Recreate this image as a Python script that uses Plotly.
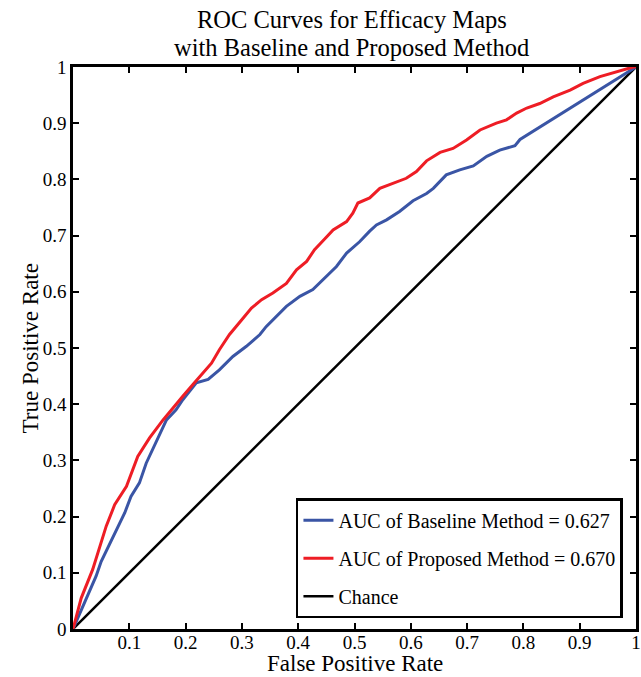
import plotly.graph_objects as go

# Baseline method ROC (blue)
baseline_fpr = [0.0, 0.023, 0.041, 0.05, 0.071, 0.092, 0.103, 0.118, 0.13, 0.145, 0.157, 0.166,
                0.183, 0.195, 0.207, 0.219, 0.240, 0.260, 0.284, 0.308, 0.332, 0.343, 0.379,
                0.403, 0.426, 0.444, 0.468, 0.486, 0.497, 0.509, 0.527, 0.539, 0.557, 0.580,
                0.604, 0.628, 0.640, 0.663, 0.687, 0.711, 0.735, 0.758, 0.785, 0.794, 1.0]
baseline_tpr = [0.0, 0.052, 0.094, 0.12, 0.165, 0.207, 0.236, 0.26, 0.295, 0.328, 0.352, 0.372,
                0.390, 0.408, 0.423, 0.438, 0.444, 0.461, 0.485, 0.503, 0.524, 0.538, 0.574,
                0.592, 0.604, 0.621, 0.645, 0.669, 0.678, 0.689, 0.708, 0.719, 0.728, 0.743,
                0.762, 0.775, 0.784, 0.808, 0.817, 0.824, 0.841, 0.852, 0.860, 0.871, 1.0]

# Proposed method ROC (red)
proposed_fpr = [0.0, 0.0146, 0.035, 0.047, 0.059, 0.074, 0.095, 0.115, 0.136, 0.160, 0.177,
                0.195, 0.213, 0.231, 0.246, 0.260, 0.278, 0.302, 0.317, 0.335, 0.355, 0.379,
                0.397, 0.415, 0.429, 0.447, 0.462, 0.486, 0.497, 0.506, 0.527, 0.545, 0.569,
                0.592, 0.610, 0.628, 0.652, 0.675, 0.699, 0.723, 0.752, 0.770, 0.788, 0.806,
                0.829, 0.853, 0.883, 0.906, 0.936, 0.966, 0.995, 1.0]
proposed_tpr = [0.0, 0.055, 0.106, 0.144, 0.183, 0.221, 0.254, 0.307, 0.340, 0.372, 0.393,
                0.414, 0.435, 0.455, 0.473, 0.497, 0.524, 0.553, 0.571, 0.586, 0.598, 0.615,
                0.639, 0.654, 0.675, 0.694, 0.710, 0.725, 0.740, 0.758, 0.767, 0.784, 0.793,
                0.802, 0.814, 0.833, 0.848, 0.855, 0.870, 0.888, 0.900, 0.906, 0.918, 0.927,
                0.935, 0.947, 0.959, 0.971, 0.983, 0.992, 1.0, 1.0]

chance_x = [0, 1]
chance_y = [0, 1]

x_ticks = [0.1, 0.2, 0.3, 0.4, 0.5, 0.6, 0.7, 0.8, 0.9, 1.0]
x_labels = ["0.1", "0.2", "0.3", "0.4", "0.5", "0.6", "0.7", "0.8", "0.9", "1"]
y_ticks = [0, 0.1, 0.2, 0.3, 0.4, 0.5, 0.6, 0.7, 0.8, 0.9, 1.0]
y_labels = ["0", "0.1", "0.2", "0.3", "0.4", "0.5", "0.6", "0.7", "0.8", "0.9", "1"]

title_lines = ["ROC Curves for Efficacy Maps", "with Baseline and Proposed Method"]
x_title = "False Positive Rate"
y_title = "True Positive Rate"

FONT = "Liberation Serif"

fig = go.Figure()
fig.add_trace(go.Scatter(x=chance_x, y=chance_y, mode="lines", name="Chance",
                         line=dict(color="black", width=2.5), legendrank=3, legendgroup="c"))
fig.add_trace(go.Scatter(x=baseline_fpr, y=baseline_tpr, mode="lines",
                         name="AUC of Baseline Method = 0.627",
                         line=dict(color="#3A55A5", width=3), legendrank=1, legendgroup="a"))
fig.add_trace(go.Scatter(x=proposed_fpr, y=proposed_tpr, mode="lines",
                         name="AUC of Proposed Method = 0.670",
                         line=dict(color="#EE1D25", width=3), legendrank=2, legendgroup="b"))

axis_common = dict(
    range=[0, 1], showgrid=False, zeroline=False, showline=True, linecolor="black",
    linewidth=2.5, mirror="ticks", ticks="inside", ticklen=6, tickwidth=2,
    tickcolor="black", tickfont=dict(family=FONT, size=19, color="black"),
    automargin=False,
)

annotations = [
    dict(text=title_lines[0], x=0.495, y=1.085, xref="paper", yref="paper",
         xanchor="center", yanchor="middle", showarrow=False,
         font=dict(family=FONT, size=24.5, color="black")),
    dict(text=title_lines[1], x=0.495, y=1.035, xref="paper", yref="paper",
         xanchor="center", yanchor="middle", showarrow=False,
         font=dict(family=FONT, size=24.5, color="black")),
    dict(text=x_title, x=0.5, y=-0.062, xref="paper", yref="paper",
         xanchor="center", yanchor="middle", showarrow=False,
         font=dict(family=FONT, size=23, color="black")),
    dict(text=y_title, x=-0.0756, y=0.5, xref="paper", yref="paper",
         xanchor="center", yanchor="middle", showarrow=False, textangle=-90,
         font=dict(family=FONT, size=23, color="black")),
]

fig.update_layout(
    width=641, height=677,
    margin=dict(l=73, r=5, t=67, b=48, autoexpand=False),
    paper_bgcolor="white", plot_bgcolor="white",
    font=dict(family=FONT, color="black"),
    xaxis=dict(axis_common, tickvals=x_ticks, ticktext=x_labels, ticklabelstandoff=-6),
    yaxis=dict(axis_common, tickvals=y_ticks, ticktext=y_labels),
    legend=dict(x=0.396, y=0.019, xanchor="left", yanchor="bottom",
                bordercolor="black", borderwidth=2.5, bgcolor="white",
                font=dict(family=FONT, size=20, color="black"),
                tracegroupgap=9, itemwidth=30),
    showlegend=True,
    annotations=annotations,
)

fig.write_html("out.html", config={"displayModeBar": False},
               post_script="document.body.style.margin='0px';document.body.style.overflow='hidden';")
